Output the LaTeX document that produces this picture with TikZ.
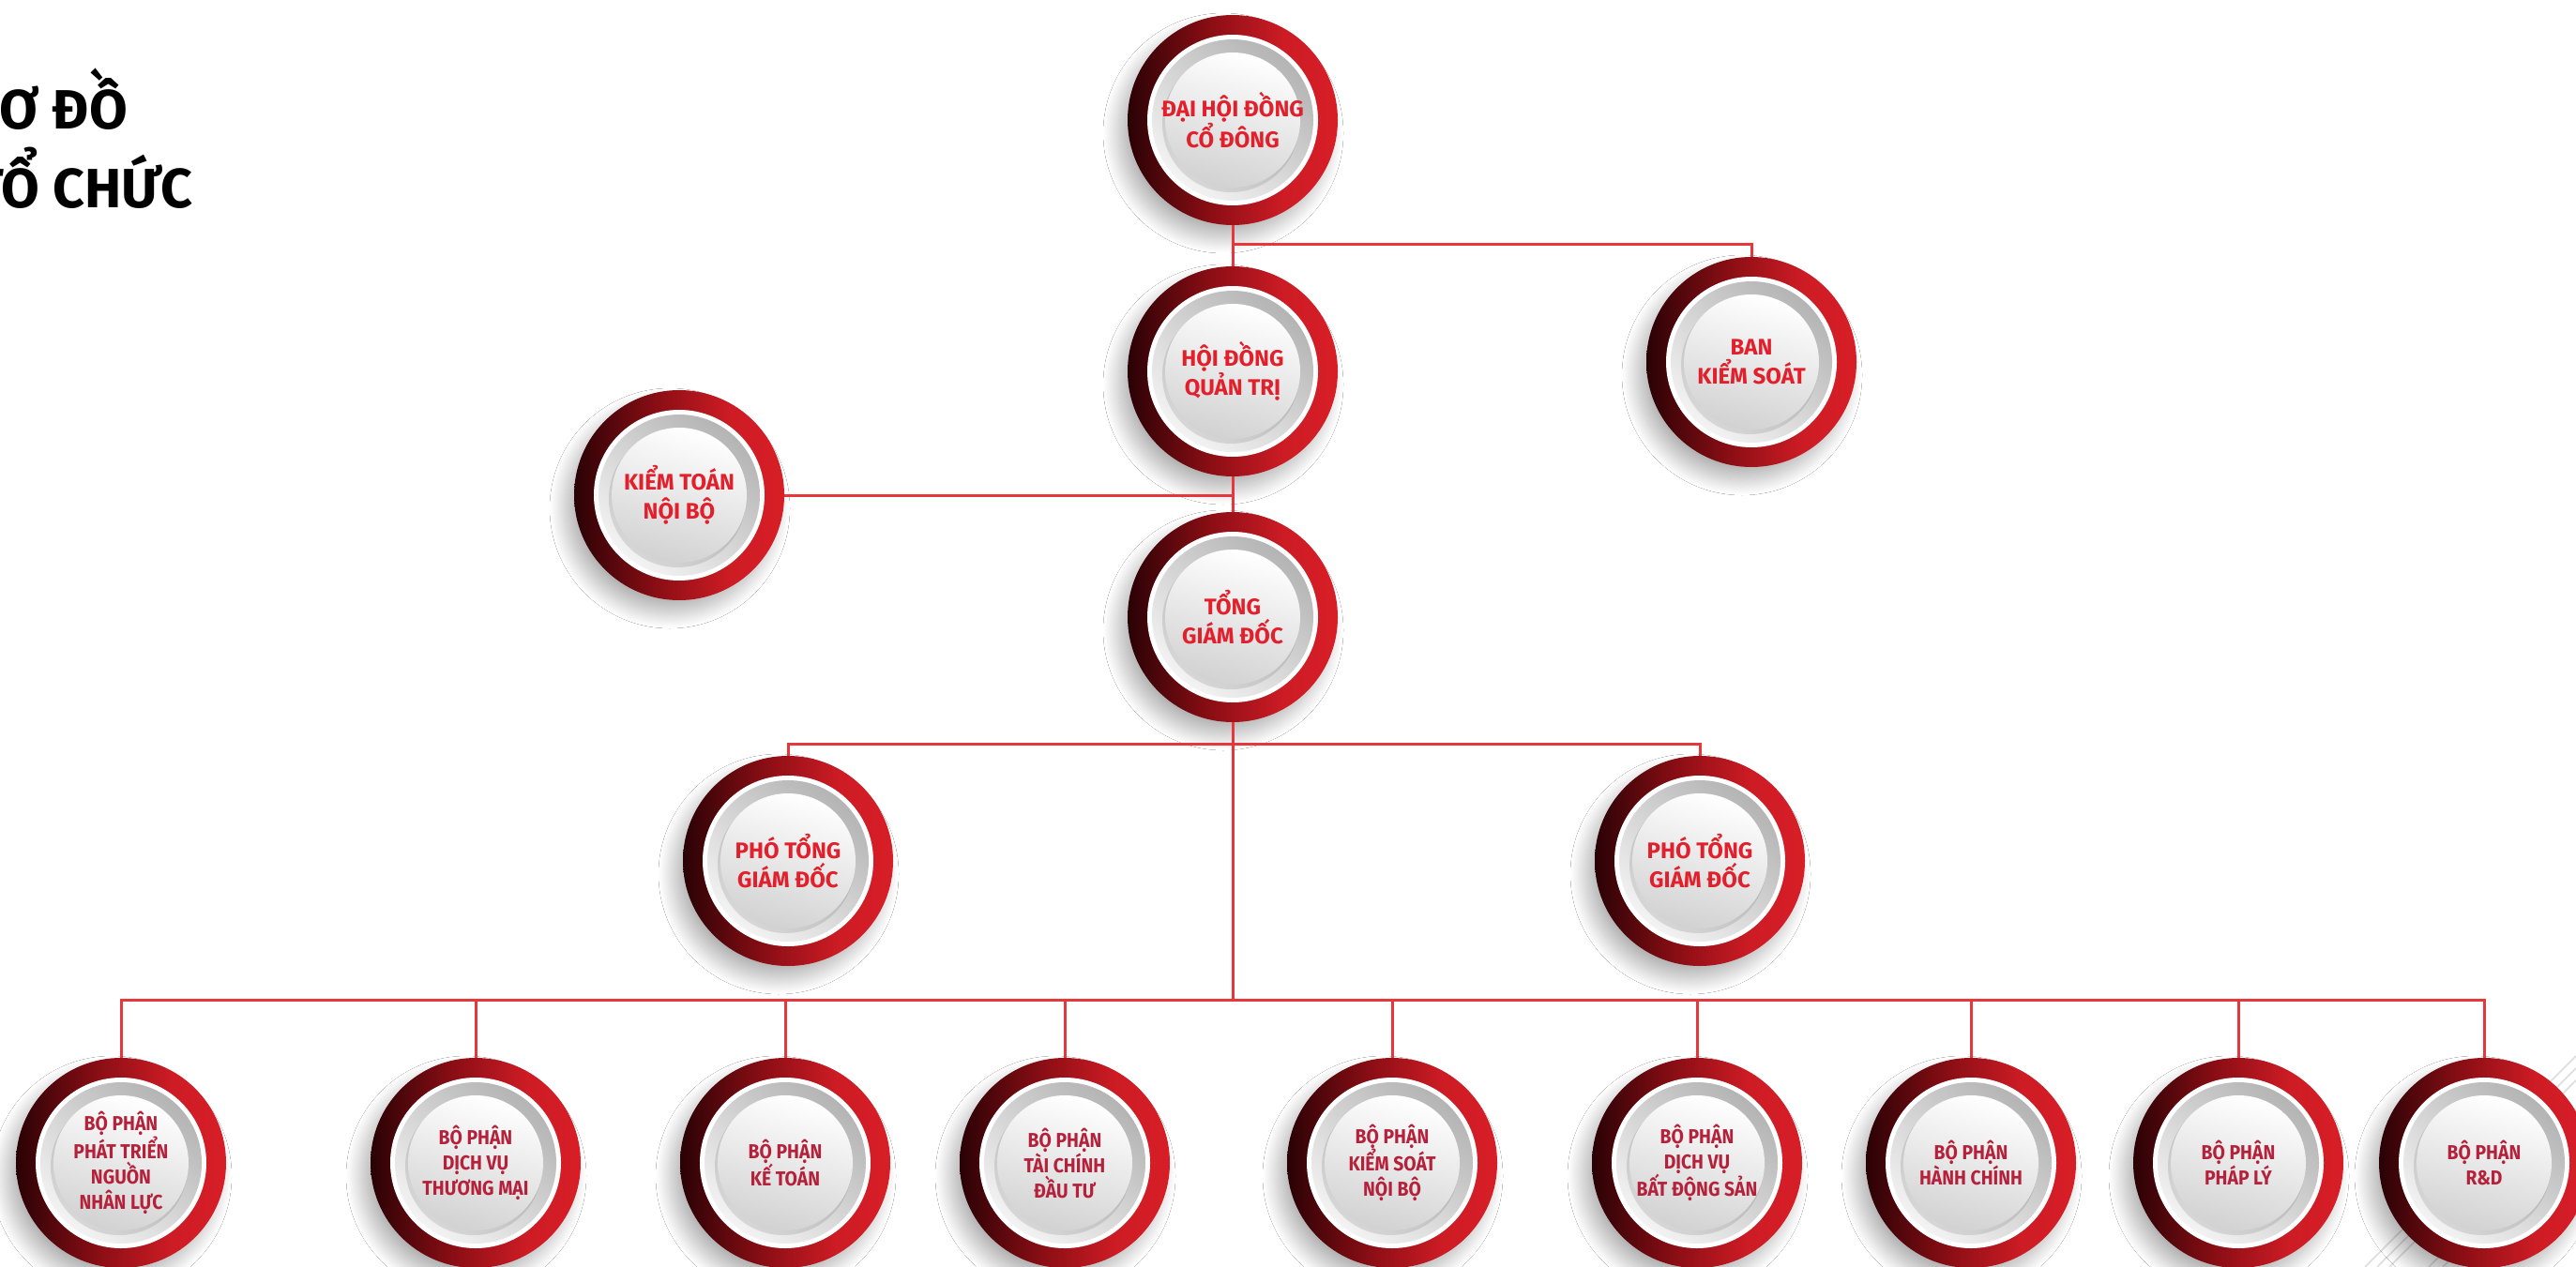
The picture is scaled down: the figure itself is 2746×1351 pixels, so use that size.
\documentclass[tikz,border=0pt]{standalone}
\usepackage{fontspec}
\setmainfont{Fira Sans}
\newfontfamily\deptfont[FakeStretch=0.9]{Fira Sans}
\usetikzlibrary{shadows.blur}
\definecolor{rdark}{HTML}{2A0205}
\definecolor{rmid}{HTML}{8C0E15}
\definecolor{rbright}{HTML}{D81E27}
\definecolor{greyA}{HTML}{B4B4B4}
\definecolor{greyB}{HTML}{F3F3F3}
\definecolor{greyC}{HTML}{D2D2D2}
\definecolor{linkred}{HTML}{E8373B}
\definecolor{topred}{HTML}{E21F2B}
\definecolor{deptred}{HTML}{B5203A}
\definecolor{bgline}{HTML}{DDDDDD}
\pgfdeclarehorizontalshading{ringshade}{100bp}{color(0bp)=(rdark); color(25bp)=(rdark); color(45bp)=(rmid); color(62bp)=(rbright!85!rmid); color(75bp)=(rbright); color(100bp)=(rbright)}
\newcommand\orgnode[4]{%
  \node[ring] (#1) at (#2) {};
  \fill[white] (#1.center) circle (91pt);
  \shade[top color=greyA, bottom color=greyB, shading angle=-40] (#1.center) circle (86pt);
  \fill[black, opacity=0.10] ([shift={(-2pt,-4pt)}]#1.center) circle (73pt);
  \shade[top color=white, bottom color=greyC, shading angle=-15] (#1.center) circle (72pt);
  \node[#3] (#1-label) at (#1.center) {#4};
}
\begin{document}
\begin{tikzpicture}[x=1pt,y=-1pt,
  ring/.style={circle, minimum size=224pt, inner sep=0pt, shading=ringshade,
    blur shadow={shadow xshift=-10pt, shadow yshift=-14pt, shadow blur radius=16pt, shadow opacity=30, shadow blur steps=30}},
  linkline/.style={draw=linkred, line width=3pt},
  toptext/.style={text=topred, font=\fontsize{24}{31}\selectfont\bfseries, align=center, inner sep=0pt},
  depttext/.style={text=deptred, font=\deptfont\fontsize{21.5}{27}\selectfont\bfseries, align=center, inner sep=0pt},
  titletext/.style={font=\fontsize{59}{84}\selectfont\bfseries, inner sep=0pt, anchor=base east},
  bgstroke/.style={draw=bgline, line width=1.5pt}
]
\useasboundingbox (0,0) rectangle (2746,1351);
\clip (0,0) rectangle (2746,1351);
\fill[white] (0,0) rectangle (2746,1351);
% background strokes
\foreach \c in {3872,3885,3898,3940,3955}
  \draw[bgstroke] ({\c-1351},1351) -- (2746,{\c-2746});
% title
\node[titletext] (title1) at (136,138) {SƠ ĐỒ};
\node[titletext] (title2) at (206,222) {TỔ CHỨC};
% nodes
\orgnode{dhd}{1314,128}{toptext}{ĐẠI HỘI ĐỒNG\\CỔ ĐÔNG}
\orgnode{hdqt}{1314,396}{toptext}{HỘI ĐỒNG\\QUẢN TRỊ}
\orgnode{bks}{1867,386}{toptext}{BAN\\KIỂM SOÁT}
\orgnode{ktnb}{724,528}{toptext}{KIỂM TOÁN\\NỘI BỘ}
\orgnode{tgd}{1314,658}{toptext}{TỔNG\\GIÁM ĐỐC}
\orgnode{ptgda}{840,918}{toptext}{PHÓ TỔNG\\GIÁM ĐỐC}
\orgnode{ptgdb}{1812,918}{toptext}{PHÓ TỔNG\\GIÁM ĐỐC}
\orgnode{da}{129,1240}{depttext}{BỘ PHẬN\\PHÁT TRIỂN\\NGUỒN\\NHÂN LỰC}
\orgnode{db}{507,1240}{depttext}{BỘ PHẬN\\DỊCH VỤ\\THƯƠNG MẠI}
\orgnode{dc}{837,1240}{depttext}{BỘ PHẬN\\KẾ TOÁN}
\orgnode{dd}{1135,1240}{depttext}{BỘ PHẬN\\TÀI CHÍNH\\ĐẦU TƯ}
\orgnode{de}{1484,1240}{depttext}{BỘ PHẬN\\KIỂM SOÁT\\NỘI BỘ}
\orgnode{df}{1809,1240}{depttext}{BỘ PHẬN\\DỊCH VỤ\\BẤT ĐỘNG SẢN}
\orgnode{dg}{2101,1240}{depttext}{BỘ PHẬN\\HÀNH CHÍNH}
\orgnode{dh}{2386,1240}{depttext}{BỘ PHẬN\\PHÁP LÝ}
\orgnode{di}{2648,1240}{depttext}{BỘ PHẬN\\R\&D}
% junctions
\coordinate (j1) at (1314,260);
\coordinate (j2) at (1314,793);
\coordinate (bus) at (1314,1066);
% connectors
\draw[linkline] (dhd.south) -- (hdqt.north);
\draw[linkline] (j1) -| (bks.north);
\draw[linkline] (hdqt.south) -- (tgd.north);
\draw[linkline] (ktnb.east) -- (ktnb.east -| hdqt.south);
\draw[linkline] (tgd.south) -- (bus);
\draw[linkline] (ptgda.north) -- (ptgda.north |- j2) -- (ptgdb.north |- j2) -- (ptgdb.north);
\draw[linkline] (da.north) -- (da.north |- bus) -- (di.north |- bus) -- (di.north);
\foreach \n in {db,dc,dd,de,df,dg,dh}
  \draw[linkline] (\n.north) -- (\n.north |- bus);
\end{tikzpicture}
\end{document}
